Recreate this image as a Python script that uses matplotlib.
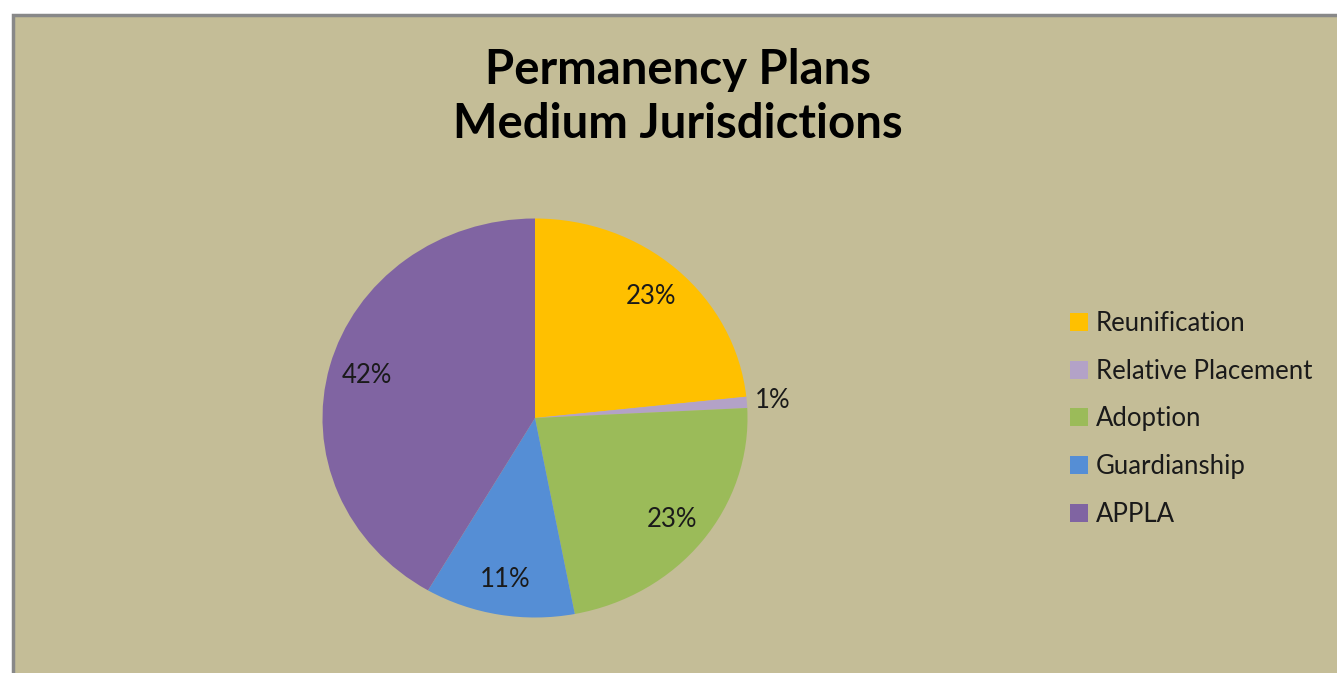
import matplotlib
matplotlib.use('Agg')
import matplotlib.pyplot as plt
from matplotlib.patches import Rectangle
import numpy as np

# Chart data
categories = ['Reunification', 'Relative Placement', 'Adoption', 'Guardianship', 'APPLA']
shares = [23.3, 0.9, 22.8, 11.4, 41.6]
colors = ['#FFC000', '#B3A2C7', '#9BBB59', '#558ED5', '#8064A2']
title_text = 'Permanency Plans\nMedium Jurisdictions'

plt.rcParams['font.family'] = ['Lato', 'DejaVu Sans']

W, H = 1337, 673
fig = plt.figure(figsize=(W / 100, H / 100), dpi=100)
fig.patch.set_facecolor('white')

# chart area panel with gray border
panel = Rectangle((13 / W, -0.01), 1.0, (H - 15) / H + 0.01, transform=fig.transFigure,
                  facecolor='#C4BD97', edgecolor='#888888', linewidth=2.5, zorder=-5)
fig.patches.append(panel)

fig.text(678 / W, 1 - 97 / H, title_text, ha='center', va='center',
         fontsize=34, fontweight='bold', color='black', linespacing=1.26)

# pie axes, slightly wider than tall like the original
ax = fig.add_axes([322.5 / W, (H - 617.5) / H, 425 / W, 399 / H])
ax.set_facecolor('none')
wedges, texts, autotexts = ax.pie(shares, colors=colors, startangle=90, counterclock=False,
                                  autopct='%.0f%%', pctdistance=0.82,
                                  wedgeprops=dict(linewidth=0),
                                  textprops=dict(fontsize=18.5, color='#1a1a1a'))
ax.set_aspect('auto')
ax.set_xlim(-1, 1)
ax.set_ylim(-1, 1)

# small slice label sits outside the pie
for w, t in zip(wedges, autotexts):
    if w.theta2 - w.theta1 < 5:
        ang = np.deg2rad((w.theta1 + w.theta2) / 2)
        t.set_position((1.12 * np.cos(ang), 1.12 * np.sin(ang)))

leg = fig.legend(wedges, categories, loc='upper left', bbox_to_anchor=(1047 / W, 1 - 288 / H),
                 frameon=False, fontsize=18.5, handlelength=0.7, handleheight=0.7,
                 handletextpad=0.3, labelspacing=0.88, labelcolor='#1a1a1a')

fig.savefig('out.png', dpi=100, facecolor=fig.get_facecolor())
